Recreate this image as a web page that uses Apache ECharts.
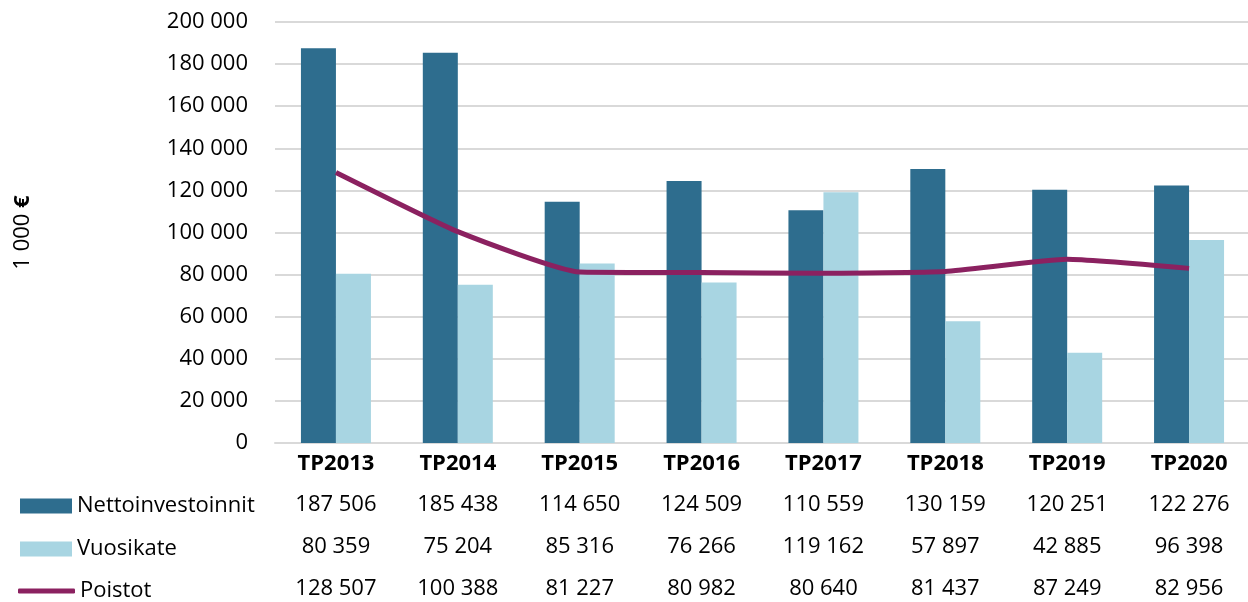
<!doctype html>
<html>
<head>
<meta charset="UTF-8">
<title>Nettoinvestoinnit, vuosikate ja poistot</title>
<script src="https://cdn.jsdelivr.net/npm/echarts@6/dist/echarts.min.js"></script>
<style>
  html, body { margin: 0; padding: 0; background: #fff; }
  #main { width: 1248px; height: 602px; }
</style>
</head>
<body>
<div id="main"></div>
<script>
var years = ['TP2013', 'TP2014', 'TP2015', 'TP2016', 'TP2017', 'TP2018', 'TP2019', 'TP2020'];
var nettoinvestoinnit = [187506, 185438, 114650, 124509, 110559, 130159, 120251, 122276];
var vuosikate = [80359, 75204, 85316, 76266, 119162, 57897, 42885, 96398];
var poistot = [128507, 100388, 81227, 80982, 80640, 81437, 87249, 82956];
var yTicks = { min: 0, max: 200000, interval: 20000 };

function fmt(v) {
    return String(v).replace(/\B(?=(\d{3})+(?!\d))/g, ' ');
}

var myChart = echarts.init(document.getElementById('main'));
var font = '"Open Sans", "Noto Sans", sans-serif';
var fs = 22;

function legendAt(name, left, top, icon, w, h) {
    return {
        data: [name],
        orient: 'vertical',
        left: left,
        top: top,
        icon: icon,
        itemWidth: w,
        itemHeight: h,
        selectedMode: false,
        textStyle: { fontFamily: font, fontSize: fs, color: '#000' }
    };
}

var option = {
    animation: false,
    textStyle: { fontFamily: font },
    grid: { left: 275, top: 22, width: 975, height: 421, outerBoundsMode: 'none', containLabel: false },
    legend: [
        legendAt('Nettoinvestoinnit', 15, 490, 'rect', 52, 15),
        legendAt('Vuosikate', 15, 533, 'rect', 52, 15),
        legendAt('Poistot', 13, 575, 'roundRect', 57, 5)
    ],
    xAxis: {
        type: 'category',
        data: years,
        axisTick: { show: false },
        axisLine: { lineStyle: { color: '#d9d9d9', width: 2 } },
        axisLabel: {
            margin: 1,
            interval: 0,
            // category name plus the data table rows under it
            formatter: function (val, idx) {
                return '{b|' + val + '}\n{v|' + fmt(nettoinvestoinnit[idx]) + '}\n{v|' +
                    fmt(vuosikate[idx]) + '}\n{v|' + fmt(poistot[idx]) + '}';
            },
            rich: {
                b: { fontFamily: font, fontSize: fs, fontWeight: 'bold', color: '#000', lineHeight: 40 },
                v: { fontFamily: font, fontSize: fs, color: '#000', lineHeight: 42 }
            }
        }
    },
    yAxis: {
        type: 'value',
        min: yTicks.min,
        max: yTicks.max,
        interval: yTicks.interval,
        name: '{n|1 000 }{e|€}',
        nameLocation: 'middle',
        nameGap: 241,
        nameRotate: 90,
        nameTextStyle: {
            rich: {
                n: { fontFamily: font, fontSize: fs, color: '#000' },
                e: { fontFamily: font, fontSize: fs, color: '#000', fontWeight: 'bold' }
            }
        },
        axisLine: { show: false },
        axisTick: { show: false },
        axisLabel: {
            margin: 27,
            fontSize: fs,
            color: '#000',
            fontFamily: font,
            formatter: function (v) { return fmt(v); }
        },
        splitLine: { lineStyle: { color: '#d9d9d9', width: 2 } }
    },
    series: [
        {
            name: 'Nettoinvestoinnit',
            type: 'bar',
            data: nettoinvestoinnit,
            barWidth: 35,
            barGap: '0%',
            itemStyle: { color: '#2e6d8e' }
        },
        {
            name: 'Vuosikate',
            type: 'bar',
            data: vuosikate,
            barWidth: 35,
            barGap: '0%',
            itemStyle: { color: '#a8d5e2' }
        },
        {
            name: 'Poistot',
            type: 'line',
            data: poistot,
            smooth: 0.15,
            symbol: 'none',
            lineStyle: { color: '#8b2160', width: 5 },
            itemStyle: { color: '#8b2160' }
        }
    ]
};
myChart.setOption(option);
</script>
</body>
</html>
